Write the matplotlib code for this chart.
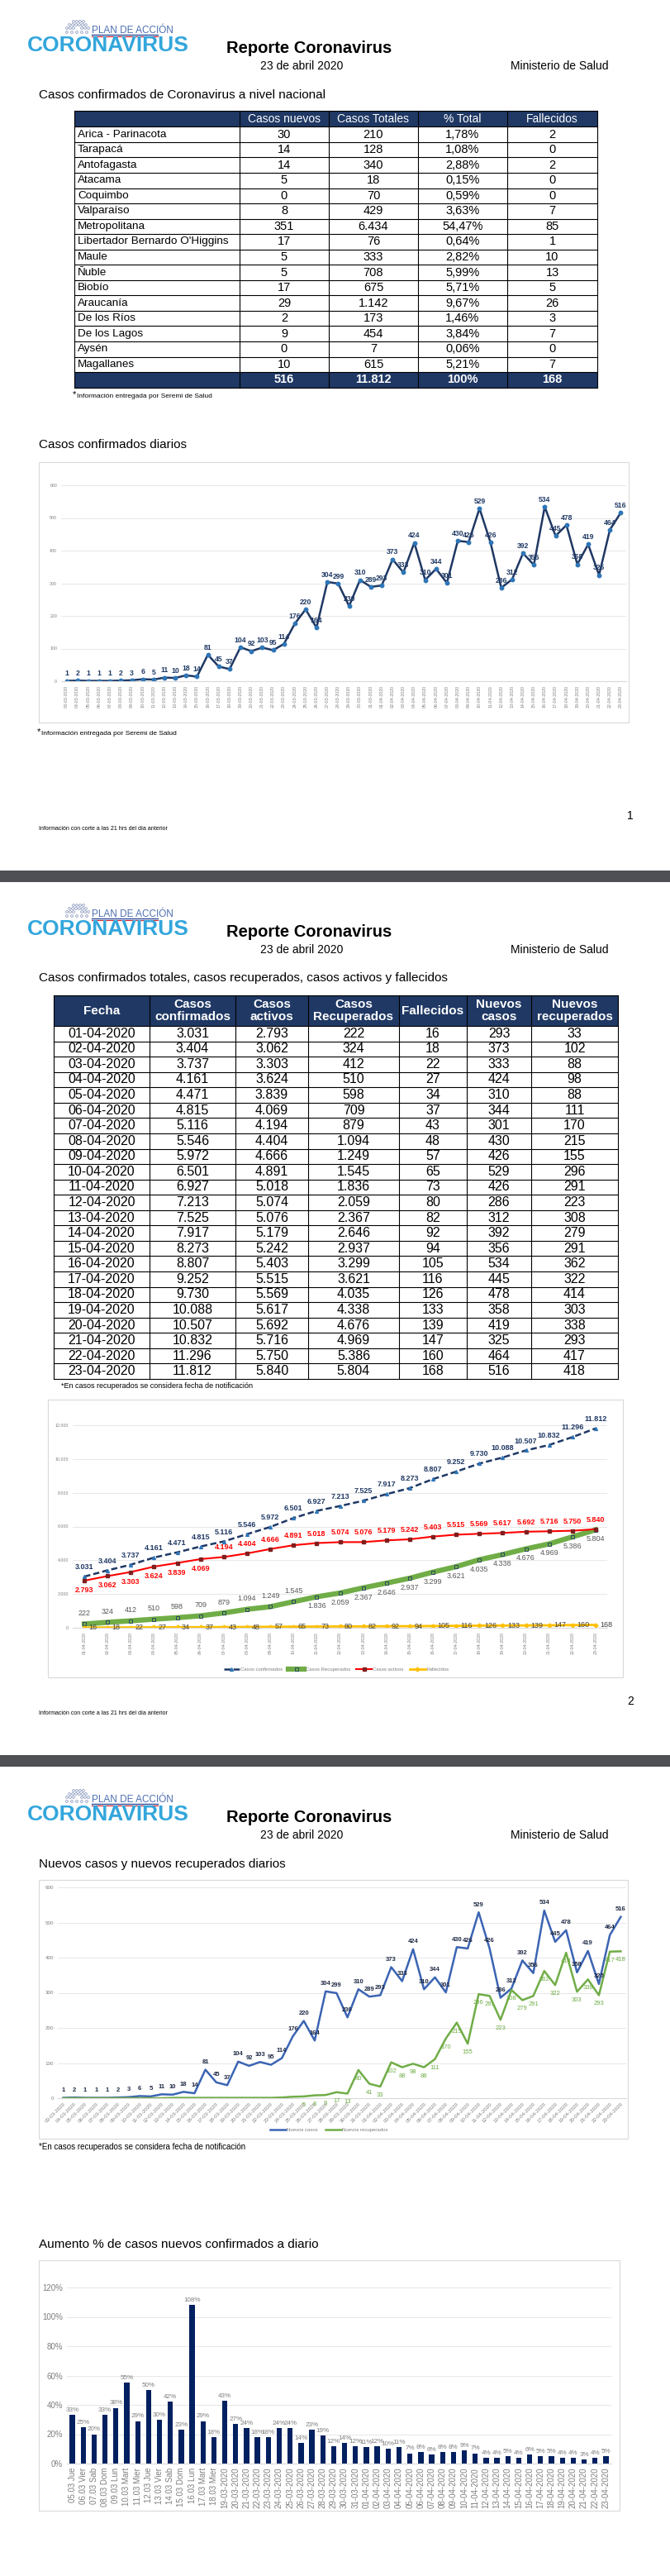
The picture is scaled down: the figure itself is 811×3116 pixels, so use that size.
import matplotlib
matplotlib.use("Agg")
import matplotlib.pyplot as plt
from matplotlib import font_manager
from matplotlib.patches import Rectangle, Circle


def pick_font(*names):
    for n in names:
        try:
            font_manager.findfont(font_manager.FontProperties(family=n), fallback_to_default=False)
            return n
        except ValueError:
            pass
    return "DejaVu Sans"


FONT = pick_font("Liberation Sans Narrow", "Liberation Sans")
plt.rcParams["font.family"] = [FONT, "DejaVu Sans"]

# ---------------- data ----------------
regiones = ["Arica - Parinacota", "Tarapacá", "Antofagasta", "Atacama", "Coquimbo", "Valparaíso",
            "Metropolitana", "Libertador Bernardo O'Higgins", "Maule", "Ñuble", "Biobío", "Araucanía",
            "De los Ríos", "De los Lagos", "Aysén", "Magallanes"]
nuevos_region = [30, 14, 14, 5, 0, 8, 351, 17, 5, 5, 17, 29, 2, 9, 0, 10]
totales_region = [210, 128, 340, 18, 70, 429, 6434, 76, 333, 708, 675, 1142, 173, 454, 7, 615]
pct_region = [1.78, 1.08, 2.88, 0.15, 0.59, 3.63, 54.47, 0.64, 2.82, 5.99, 5.71, 9.67, 1.46, 3.84, 0.06, 5.21]
fallecidos_region = [2, 0, 2, 0, 0, 7, 85, 1, 10, 13, 5, 26, 3, 7, 0, 7]

fechas_diarias = [f"{d:02d}-03-2020" for d in range(3, 32)] + [f"{d:02d}-04-2020" for d in range(1, 24)]
casos_diarios = [1, 2, 1, 1, 1, 2, 3, 6, 5, 11, 10, 18, 14, 81, 45, 37, 104, 92, 103, 95,
                 114, 176, 220, 164, 304, 299, 230, 310, 289, 293, 373, 333, 424, 310, 344, 301,
                 430, 426, 529, 426, 286, 312, 392, 356, 534, 445, 478, 358, 419, 325, 464, 516]
recuperados_diarios = [0, 0, 0, 0, 0, 0, 0, 0, 0, 0, 1, 1, 1, 1, 1, 1, 1, 1, 1, 1, 2,
                       4, 5, 8, 9, 17, 13, 80, 41,
                       33, 102, 88, 98, 88, 111, 170, 215, 155, 296, 291, 223, 308, 279, 291,
                       362, 322, 414, 303, 338, 293, 417, 418]

fechas_abril = [f"{d:02d}-04-2020" for d in range(1, 24)]
confirmados = [3031, 3404, 3737, 4161, 4471, 4815, 5116, 5546, 5972, 6501, 6927, 7213, 7525, 7917,
               8273, 8807, 9252, 9730, 10088, 10507, 10832, 11296, 11812]
activos = [2793, 3062, 3303, 3624, 3839, 4069, 4194, 4404, 4666, 4891, 5018, 5074, 5076, 5179,
           5242, 5403, 5515, 5569, 5617, 5692, 5716, 5750, 5840]
recuperados = [222, 324, 412, 510, 598, 709, 879, 1094, 1249, 1545, 1836, 2059, 2367, 2646,
               2937, 3299, 3621, 4035, 4338, 4676, 4969, 5386, 5804]
fallecidos = [16, 18, 22, 27, 34, 37, 43, 48, 57, 65, 73, 80, 82, 92, 94, 105, 116, 126, 133,
              139, 147, 160, 168]
nuevos_casos = [293, 373, 333, 424, 310, 344, 301, 430, 426, 529, 426, 286, 312, 392, 356, 534,
                445, 478, 358, 419, 325, 464, 516]
nuevos_recuperados = [33, 102, 88, 98, 88, 111, 170, 215, 155, 296, 291, 223, 308, 279, 291, 362,
                      322, 414, 303, 338, 293, 417, 418]

fechas_aumento = ["05.03 Jue", "06.03 Vier", "07.03 Sab", "08.03 Dom", "09.03 Lun", "10.03 Mart",
                  "11.03 Mier", "12.03 Jue", "13.03 Vier", "14.03 Sab", "15.03 Dom", "16.03 Lun",
                  "17.03 Mart", "18.03 Mier"] + fechas_diarias[16:]
aumento_pct = [33, 25, 20, 33, 38, 55, 29, 50, 30, 42, 23, 108, 29, 18, 43, 27, 24, 18, 18, 24,
               24, 14, 23, 19, 12, 14, 12, 11, 12, 10, 11, 7, 8, 6, 8, 8, 9, 7, 4, 4, 5, 4, 6, 5,
               5, 4, 4, 3, 4, 5]

# ---------------- layout helpers ----------------
W, H = 811, 3116
NAVY = "#1f3864"
GRAY = "#7f7f7f"
fig = plt.figure(figsize=(W / 100, H / 100), dpi=100)
bg = fig.add_axes([0, 0, 1, 1])
bg.set_xlim(0, W)
bg.set_ylim(H, 0)
bg.axis("off")


def px_axes(x0, y0, x1, y1):
    ax = fig.add_axes([x0 / W, 1 - y1 / H, (x1 - x0) / W, (y1 - y0) / H])
    ax.patch.set_alpha(0)
    return ax


def fmt(n):
    return f"{n:,}".replace(",", ".")


def header(off):
    rows = [(26, [89, 93, 97, 101]), (30, [84, 88, 92, 96, 100, 104]),
            (34, [81, 85, 89, 99, 103, 107]), (39, [81, 87, 93, 99, 105])]
    for cy, xs in rows:
        for cx in xs:
            bg.add_patch(Circle((cx, cy + off), 1.4, fill=False, ec="#8d9cc0", lw=0.6))
    bg.text(111, 37 + off, "PLAN DE ACCIÓN", color="#4b6db1", fontsize=8.5, va="center")
    bg.plot([111, 191], [42.3 + off] * 2, color="#2a4d9c", lw=1.0)
    bg.plot([111, 191], [43.8 + off] * 2, color="#d8232a", lw=0.8)
    bg.text(33, 55 + off, "CORONAVIRUS", color="#33a6dc", fontsize=19, fontweight="bold", va="center")
    bg.text(374, 58 + off, "Reporte Coronavirus", fontsize=14.5, fontweight="bold", ha="center", va="center")
    bg.text(365, 80 + off, "23 de abril 2020", fontsize=10, ha="center", va="center")
    bg.text(736, 80 + off, "Ministerio de Salud", fontsize=10, ha="right", va="center")


def frame(x0, y0, x1, y1):
    bg.add_patch(Rectangle((x0, y0), x1 - x0, y1 - y0, fill=False, ec="#d9d9d9", lw=0.8))


def style_chart(ax, ylabsize=4):
    for s in ["top", "right", "left"]:
        ax.spines[s].set_visible(False)
    ax.spines["bottom"].set_color("#d9d9d9")
    ax.grid(axis="y", color="#e3e3e3", lw=0.6)
    ax.set_axisbelow(True)
    ax.tick_params(length=0, colors=GRAY, labelsize=ylabsize)


for off in [0, 1069, 2140]:
    header(off)

# page separators
for y in [1053, 2123]:
    bg.add_patch(Rectangle((0, y), W, 14, color="#4e5053", lw=0))

# footers
for y_txt, y_num, num in [(1002, 987, "1"), (2073, 2058, "2")]:
    bg.text(47, y_txt, "Información con corte a las 21 hrs del día anterior", fontsize=5, va="center")
    bg.text(763, y_num, num, fontsize=10, va="center", ha="center")

# ---------------- page 1 table ----------------
bg.text(47, 115, "Casos confirmados de Coronavirus a nivel nacional", fontsize=11, va="center")
t1_cols = [90, 290, 398, 506, 614, 723]
t1_top, t1_hh, t1_rh = 134, 19.3, 18.55
n1 = len(regiones)
t1_bot = t1_top + t1_hh + (n1 + 1) * t1_rh
bg.add_patch(Rectangle((t1_cols[0], t1_top), t1_cols[-1] - t1_cols[0], t1_hh, color=NAVY, lw=0))
bg.add_patch(Rectangle((t1_cols[0], t1_bot - t1_rh), t1_cols[-1] - t1_cols[0], t1_rh, color=NAVY, lw=0))
for x in t1_cols:
    bg.plot([x, x], [t1_top, t1_bot], color="black", lw=0.8)
for i in range(n1 + 2):
    y = t1_top + (t1_hh + (i - 1) * t1_rh if i > 0 else 0)
    bg.plot([t1_cols[0], t1_cols[-1]], [y, y], color="black", lw=0.8)
bg.plot([t1_cols[0], t1_cols[-1]], [t1_bot, t1_bot], color="black", lw=0.8)
centers1 = [(t1_cols[i] + t1_cols[i + 1]) / 2 for i in range(5)]
for j, h in enumerate(["Casos nuevos", "Casos Totales", "% Total", "Fallecidos"]):
    bg.text(centers1[j + 1], t1_top + t1_hh / 2, h, color="white", fontsize=10, ha="center", va="center")
for i in range(n1):
    yc = t1_top + t1_hh + (i + 0.5) * t1_rh
    bg.text(t1_cols[0] + 4, yc, regiones[i], fontsize=9.7, va="center")
    vals = [str(nuevos_region[i]), fmt(totales_region[i]), f"{pct_region[i]:.2f}%".replace(".", ","),
            str(fallecidos_region[i])]
    for j, v in enumerate(vals):
        bg.text(centers1[j + 1], yc, v, fontsize=10.5, ha="center", va="center")
tot = [str(sum(nuevos_region)), fmt(sum(totales_region)), "100%", str(sum(fallecidos_region))]
for j, v in enumerate(tot):
    bg.text(centers1[j + 1], t1_bot - t1_rh / 2, v, fontsize=10.5, ha="center", va="center",
            color="white", fontweight="bold")
bg.text(88, 477, "*", fontsize=8, va="center")
bg.text(93, 479, "Información entregada por Seremi de Salud", fontsize=6, va="center")

# ---------------- chart 1 ----------------
bg.text(47, 538, "Casos confirmados diarios", fontsize=11, va="center")
frame(47, 559, 761, 874)
ax1 = px_axes(74, 587, 758, 824)
x1 = range(len(casos_diarios))
ax1.plot(x1, casos_diarios, color=NAVY, lw=1.8, marker="o", ms=3.2, mfc="#2e75b6", mec="#2e75b6")
for i, v in enumerate(casos_diarios):
    ax1.annotate(str(v), (i, v), xytext=(0, 3), textcoords="offset points", ha="center", va="bottom",
                 fontsize=6.2, color=NAVY, fontweight="bold")
ax1.set_xlim(-0.5, len(casos_diarios) - 0.5)
ax1.set_ylim(0, 600)
ax1.set_yticks(range(0, 601, 100))
ax1.set_xticks(list(x1))
ax1.set_xticklabels(fechas_diarias, rotation=90, fontsize=3.3)
style_chart(ax1, 3.8)
bg.text(45, 885, "*", fontsize=8, va="center")
bg.text(50, 887, "Información entregada por Seremi de Salud", fontsize=6, va="center")

# ---------------- page 2 table ----------------
bg.text(47, 1183, "Casos confirmados totales, casos recuperados, casos activos y fallecidos", fontsize=11,
        va="center")
t2_cols = [65, 181, 285, 373, 483, 565, 643, 748]
t2_top, t2_hh = 1204, 37
n2 = len(fechas_abril)
t2_rh = (1668 - t2_top - t2_hh) / n2
t2_bot = t2_top + t2_hh + n2 * t2_rh
bg.add_patch(Rectangle((t2_cols[0], t2_top), t2_cols[-1] - t2_cols[0], t2_hh, color=NAVY, lw=0))
for x in t2_cols:
    bg.plot([x, x], [t2_top, t2_bot], color="black", lw=0.8)
for i in range(n2 + 1):
    y = t2_top + t2_hh + i * t2_rh
    bg.plot([t2_cols[0], t2_cols[-1]], [y, y], color="black", lw=0.8)
bg.plot([t2_cols[0], t2_cols[-1]], [t2_top, t2_top], color="black", lw=0.8)
centers2 = [(t2_cols[i] + t2_cols[i + 1]) / 2 for i in range(7)]
heads2 = ["Fecha", "Casos\nconfirmados", "Casos\nactivos", "Casos\nRecuperados", "Fallecidos",
          "Nuevos\ncasos", "Nuevos\nrecuperados"]
for j, h in enumerate(heads2):
    bg.text(centers2[j], t2_top + t2_hh / 2, h, color="white", fontsize=11, ha="center", va="center",
            fontweight="bold", linespacing=1.1)
for i in range(n2):
    yc = t2_top + t2_hh + (i + 0.5) * t2_rh
    vals = [fechas_abril[i], fmt(confirmados[i]), fmt(activos[i]), fmt(recuperados[i]), str(fallecidos[i]),
            str(nuevos_casos[i]), str(nuevos_recuperados[i])]
    for j, v in enumerate(vals):
        bg.text(centers2[j], yc, v, fontsize=11.5, ha="center", va="center")
bg.text(74, 1676, "*En casos recuperados se considera fecha de notificación", fontsize=6.5, va="center")

# ---------------- chart 2 ----------------
frame(58, 1693, 754, 2029)
ax2 = px_axes(88, 1724, 735, 1969)
x2 = range(n2)
l_conf, = ax2.plot(x2, confirmados, color=NAVY, lw=1.8, ls=(0, (3, 1.5)), marker="^", ms=2.8,
                   mfc="#2e75b6", mec="#2e75b6", label="Casos confirmados")
l_rec, = ax2.plot(x2, recuperados, color="#70ad47", lw=4.5, marker="s", ms=3.5, mfc="#70ad47",
                  mec="#1f3864", mew=0.6, label="Casos Recuperados")
l_act, = ax2.plot(x2, activos, color="#ff0000", lw=1.5, marker="s", ms=2.2, mfc="#7f1f1f",
                  mec="#7f1f1f", label="Casos activos")
l_fal, = ax2.plot(x2, fallecidos, color="#ffc000", lw=2, marker="D", ms=2.5, mfc="#ffc000",
                  mec="#ffc000", label="Fallecidos")
for i in x2:
    ax2.annotate(fmt(confirmados[i]), (i, confirmados[i]), xytext=(0, 5), textcoords="offset points",
                 ha="center", va="bottom", fontsize=6.5, color=NAVY, fontweight="bold")
    dy = -5 if i < 6 else 5
    ax2.annotate(fmt(activos[i]), (i, activos[i]), xytext=(0, dy), textcoords="offset points",
                 ha="center", va="top" if dy < 0 else "bottom", fontsize=6.5, color="#ff0000",
                 fontweight="bold")
    dy = 6 if i < 10 else -5
    ax2.annotate(fmt(recuperados[i]), (i, recuperados[i]), xytext=(0, dy), textcoords="offset points",
                 ha="center", va="bottom" if dy > 0 else "top", fontsize=6.5, color="#595959")
    ax2.annotate(str(fallecidos[i]), (i, fallecidos[i]), xytext=(4, 0), textcoords="offset points",
                 ha="left", va="center", fontsize=6.5, color="#404040")
ax2.set_xlim(-0.5, n2 - 0.5)
ax2.set_ylim(0, 12000)
ax2.set_yticks(range(0, 12001, 2000))
ax2.set_yticklabels([fmt(v) for v in range(0, 12001, 2000)])
ax2.set_xticks(list(x2))
ax2.set_xticklabels(fechas_abril, rotation=90, fontsize=3.8)
style_chart(ax2, 3.8)
ax2.legend(handles=[l_conf, l_rec, l_act, l_fal], loc="center", bbox_to_anchor=(407 / W, 1 - 2019 / H),
           bbox_transform=fig.transFigure, ncol=4, frameon=False, fontsize=4.3, labelcolor=GRAY,
           handlelength=3.2, columnspacing=1.2, handletextpad=0.2)

# ---------------- chart 3 ----------------
bg.text(47, 2255, "Nuevos casos y nuevos recuperados diarios", fontsize=11, va="center")
frame(47, 2274, 760, 2587)
ax3 = px_axes(70, 2283, 758, 2538)
l_nc, = ax3.plot(x1, casos_diarios, color="#3b64b3", lw=1.8, label="Nuevos casos")
l_nr, = ax3.plot(x1, recuperados_diarios, color="#70ad47", lw=1.8, label="Nuevos recuperados")
for i, v in enumerate(casos_diarios):
    ax3.annotate(str(v), (i, v), xytext=(0, 4), textcoords="offset points", ha="center", va="bottom",
                 fontsize=5.5, color="#1f2a44", fontweight="bold")
for i, v in enumerate(recuperados_diarios):
    if v >= 5:
        ax3.annotate(str(v), (i, v), xytext=(0, -5), textcoords="offset points", ha="center", va="top",
                     fontsize=5.5, color="#70ad47")
ax3.set_xlim(-0.5, len(casos_diarios) - 0.5)
ax3.set_ylim(0, 600)
ax3.set_yticks(range(0, 601, 100))
ax3.set_xticks(list(x1))
ax3.set_xticklabels(fechas_diarias, rotation=45, ha="right", rotation_mode="anchor", fontsize=3.8)
style_chart(ax3, 4.5)
ax3.legend(handles=[l_nc, l_nr], loc="center", bbox_to_anchor=(398 / W, 1 - 2576 / H),
           bbox_transform=fig.transFigure, ncol=2, frameon=False, fontsize=4.3, labelcolor=GRAY,
           handlelength=3.2, columnspacing=1.5, handletextpad=0.2)
bg.text(47, 2597, "*En casos recuperados se considera fecha de notificación", fontsize=7, va="center")

# ---------------- chart 4 ----------------
bg.text(47, 2715, "Aumento % de casos nuevos confirmados a diario", fontsize=11, va="center")
frame(47, 2734, 750, 3037)
ax4 = px_axes(81, 2767, 740, 2980)
x4 = range(len(aumento_pct))
bars = ax4.bar(x4, [v / 100 for v in aumento_pct], width=0.48, color="#002060")
ax4.bar_label(bars, labels=[f"{v}%" for v in aumento_pct], padding=1.5, fontsize=5.8, color=GRAY)
ax4.set_xlim(-0.5, len(aumento_pct) - 0.5)
ax4.set_ylim(0, 1.2)
ax4.set_yticks([0, 0.2, 0.4, 0.6, 0.8, 1.0, 1.2])
ax4.set_yticklabels(["0%", "20%", "40%", "60%", "80%", "100%", "120%"])
ax4.set_xticks(list(x4))
ax4.set_xticklabels(fechas_aumento, rotation=90, fontsize=4.4)
style_chart(ax4, 7)

fig.savefig("out.png", dpi=100)
